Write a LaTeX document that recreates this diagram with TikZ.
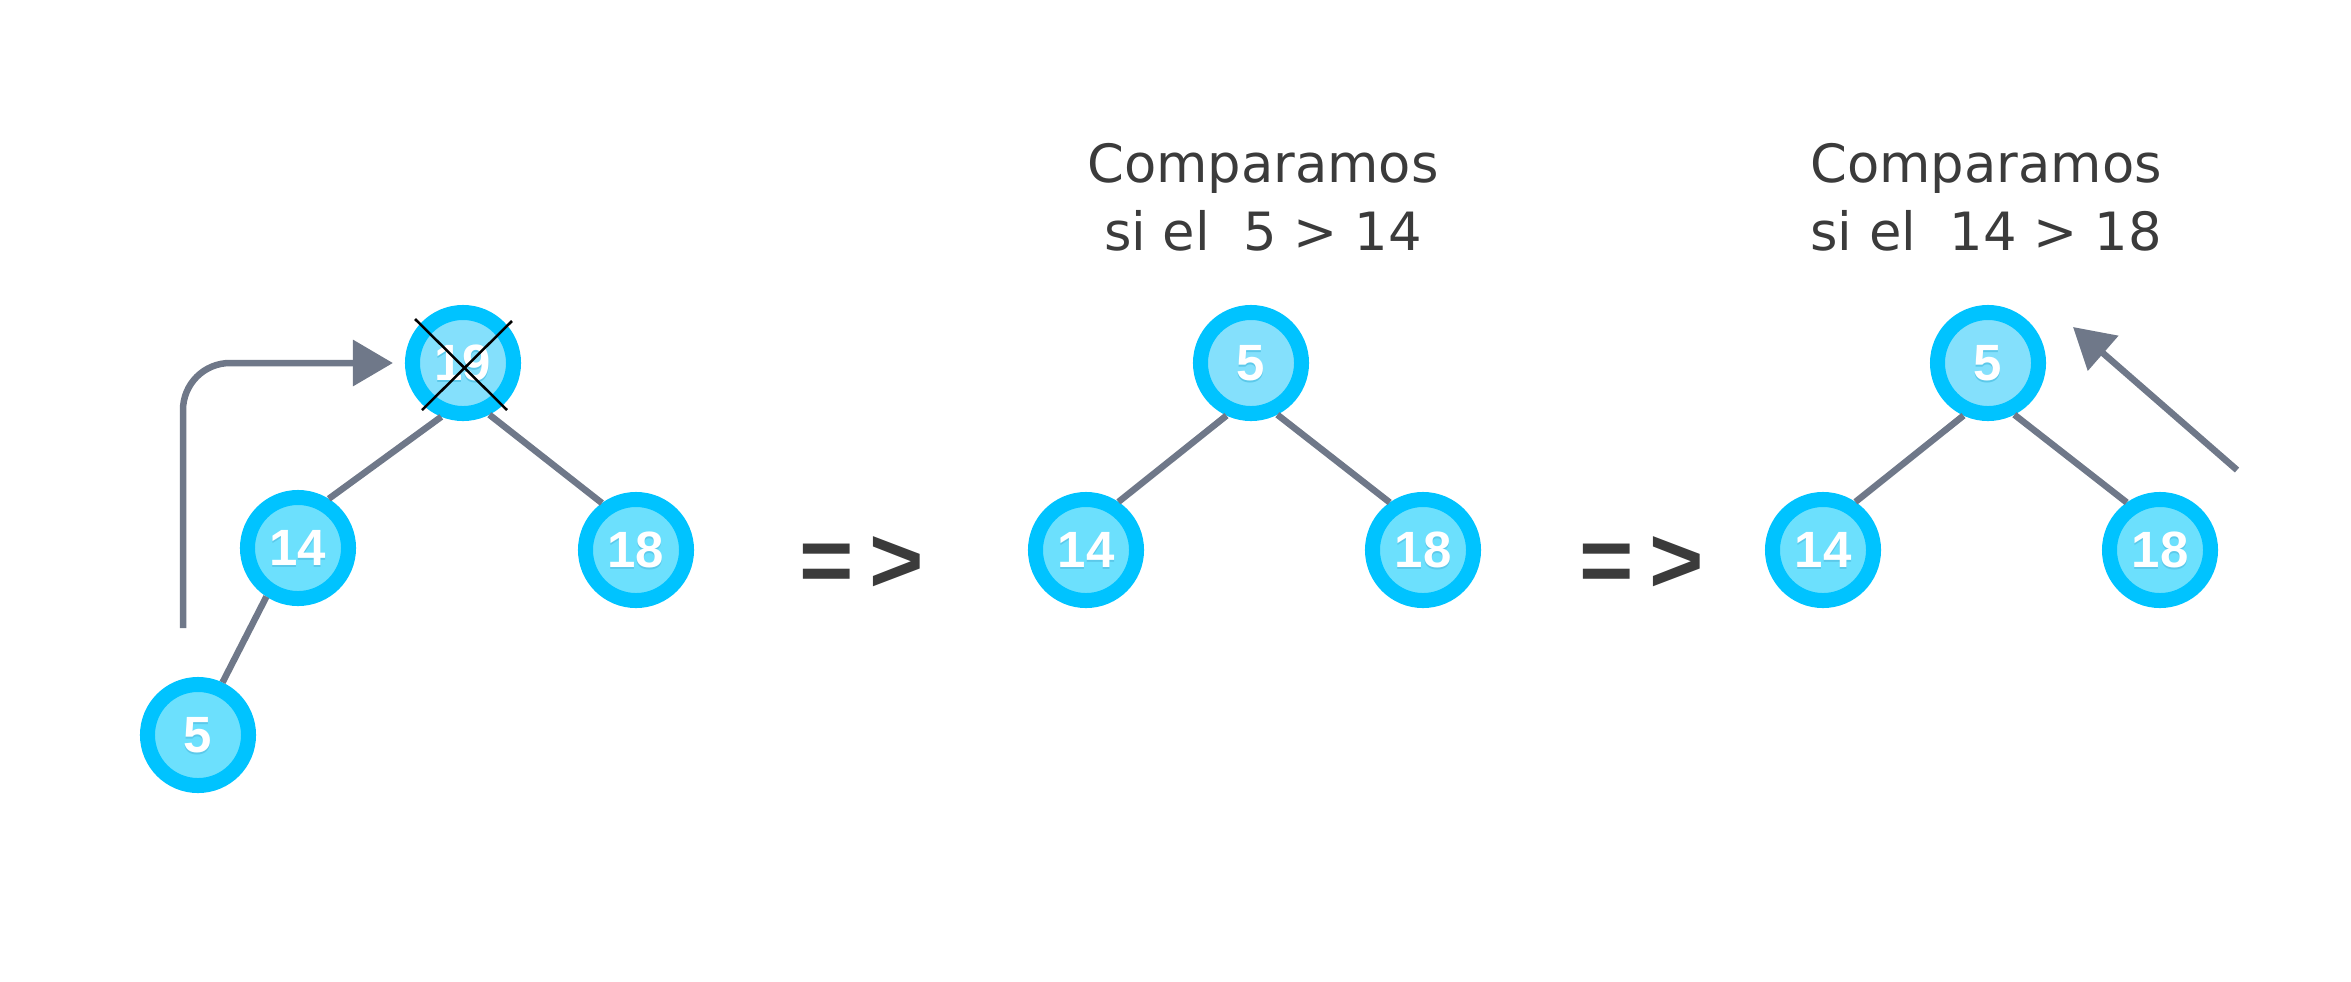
\documentclass[tikz,border=0pt]{standalone}
\usepackage{fontspec}
\setmainfont{DejaVu Sans}
\newfontfamily\keyfont{Liberation Sans}
\usepackage{xcolor}
\usetikzlibrary{arrows.meta}

\definecolor{ringblue}{HTML}{00C3FF}
\definecolor{keyfill}{HTML}{6CE0FD}
\definecolor{topfill}{HTML}{84E0FC}
\definecolor{shadowblue}{HTML}{5CC9EA}
\definecolor{edgegray}{HTML}{6F7889}
\definecolor{txtgray}{HTML}{3B3B3B}

% white key with a small shadow under it
\newcommand\keytext[1]{\rlap{\smash{\raisebox{-0.6pt}{\color{shadowblue}#1}}}#1}

\begin{document}
\begin{tikzpicture}[x=0.01cm, y=-0.01cm,
    key/.style={circle, draw=ringblue, fill=keyfill, line width=0.15cm,
      minimum size=1.01cm, inner sep=0pt, text=white,
      font=\keyfont\bfseries\fontsize{14.5pt}{14.5pt}\selectfont},
    topkey/.style={key, fill=topfill},
    link/.style={draw=edgegray, line width=0.065cm},
    pointer/.style={link, -{Triangle[length=0.4cm, width=0.45cm]}},
    note/.style={align=center, text=txtgray, inner sep=0pt,
      font=\fontsize{15pt}{19.3pt}\selectfont},
    implies/.style={text=txtgray, inner sep=0pt,
      font=\keyfont\bfseries\fontsize{26.5pt}{27pt}\selectfont}]

  \useasboundingbox (0,0) rectangle (2351,981);

  % first tree: the 19 is taken out, the 5 goes up
  \node[topkey] (l19) at (463,363) {\keytext{19}};
  \node[key] (l14) at (298,548) {\keytext{14}};
  \node[key] (l18) at (636,550) {\keytext{18}};
  \node[key] (l5) at (198,735) {\keytext{5}};
  \draw[link] (l19.248) -- (l14.58);
  \draw[link] (l19.297) -- (l18.126);
  \draw[link] (l14.237) -- (l5.65);
  \draw[line width=0.025cm] (l19) ++(-48,-44) -- ++(92,91);
  \draw[line width=0.025cm] (l19) ++(49,-42) -- ++(-90,89);
  \coordinate (lift) at (183,628);
  \draw[pointer, rounded corners=0.47cm] (lift) |- ([xshift=-0.12cm]l19.west);

  \node[implies] (imp1) at (862,565) {=\,>};
  \node[implies] (imp2) at (1642,565) {=\,>};

  % second and third tree
  \foreach \t/\cx/\nx/\ca/\cb in {m/1251/1263/5/14, r/1988/1986/14/18} {
    \node[note] (\t note) at (\nx,197) {Comparamos\\si el~~\ca{} > \cb};
    \node[topkey] (\t5) at (\cx,363) {\keytext{5}};
    \node[key] (\t14) at (\cx-165,550) {\keytext{14}};
    \node[key] (\t18) at (\cx+172,550) {\keytext{18}};
    \draw[link] (\t5.245) -- (\t14.56);
    \draw[link] (\t5.297) -- (\t18.125);
  }

  \coordinate (back) at (2237,470);
  \coordinate (backtip) at (2073,327);
  \draw[pointer] (back) -- (backtip);
\end{tikzpicture}
\end{document}
